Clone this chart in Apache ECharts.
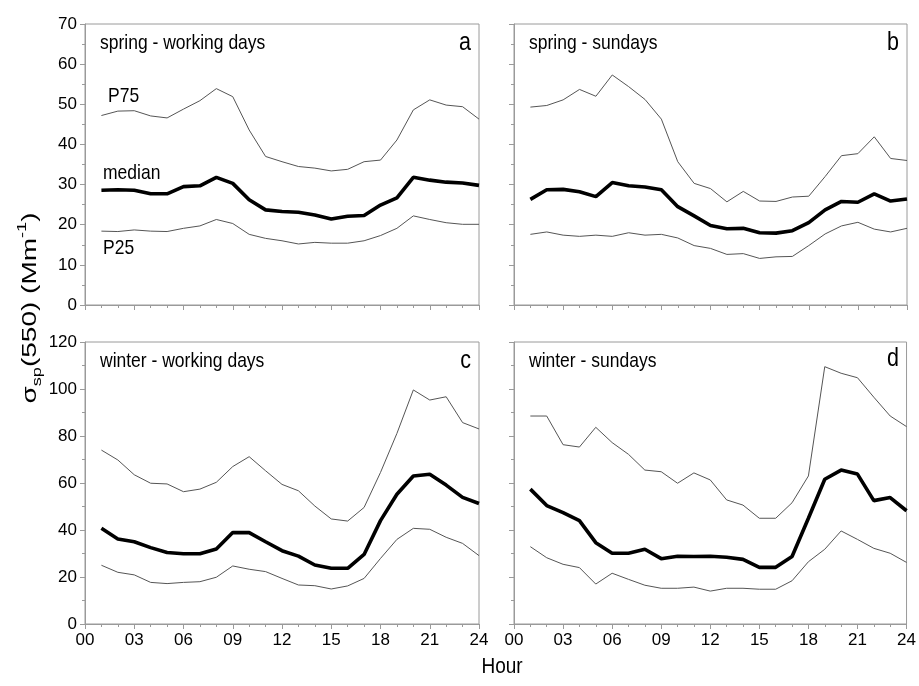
<!DOCTYPE html>
<html><head><meta charset="utf-8">
<script src="https://cdn.jsdelivr.net/npm/echarts@6/dist/echarts.min.js"></script>
<style>html,body{margin:0;padding:0;background:#fff}#c{width:919px;height:686px}</style>
</head><body><div id="c"></div>
<script>
const hours = [1,2,3,4,5,6,7,8,9,10,11,12,13,14,15,16,17,18,19,20,21,22,23,24];
const xTickLabels = ['00','03','06','09','12','15','18','21','24'];

const springWorkP75 = [47.2,48.3,48.4,47.1,46.6,48.8,50.9,53.9,51.9,43.6,37.0,35.7,34.5,34.1,33.4,33.8,35.7,36.1,41.1,48.6,51.1,49.8,49.4,46.3];
const springWorkMed = [28.6,28.7,28.6,27.7,27.7,29.5,29.7,31.8,30.3,26.2,23.7,23.3,23.1,22.4,21.4,22.1,22.3,24.9,26.7,31.8,31.1,30.6,30.4,29.8];
const springWorkP25 = [18.4,18.3,18.7,18.4,18.3,19.1,19.7,21.3,20.3,17.6,16.6,16.0,15.2,15.6,15.4,15.4,16.0,17.3,19.1,22.2,21.3,20.5,20.1,20.1];

const springSunP75 = [49.3,49.7,51.1,53.7,52.0,57.3,54.4,51.2,46.3,35.7,30.3,29.0,25.7,28.3,25.9,25.8,26.9,27.1,32.0,37.2,37.7,41.9,36.5,36.0];
const springSunMed = [26.3,28.7,28.8,28.2,27.0,30.5,29.7,29.4,28.7,24.5,22.2,19.8,19.0,19.1,18.0,17.9,18.5,20.5,23.7,25.8,25.6,27.7,25.9,26.4];
const springSunP25 = [17.6,18.2,17.4,17.1,17.4,17.1,18.0,17.4,17.6,16.7,14.8,14.1,12.6,12.8,11.6,12.0,12.1,14.8,17.7,19.7,20.6,18.9,18.2,19.1];

const winterWorkP75 = [74.0,69.8,63.5,59.9,59.6,56.3,57.4,60.3,67.0,71.2,65.2,59.4,56.7,50.2,44.7,43.8,49.6,64.5,81.1,99.6,95.3,96.7,85.7,83.0];
const winterWorkMed = [40.7,36.2,35.0,32.5,30.4,29.9,29.9,31.9,38.9,38.9,35.0,31.2,28.9,25.1,23.7,23.7,29.6,44.0,55.2,63.0,63.7,59.1,53.9,51.3];
const winterWorkP25 = [25.0,22.0,20.9,17.7,17.2,17.7,18.0,19.9,24.7,23.3,22.3,19.4,16.6,16.3,14.9,16.2,19.4,27.9,36.0,40.7,40.3,36.9,34.3,29.1];

const winterSunP75 = [88.5,88.5,76.3,75.3,83.7,77.2,72.2,65.5,64.8,59.9,64.3,61.3,52.8,50.6,45.0,45.0,51.6,63.0,109.5,106.7,104.8,96.5,88.5,84.0];
const winterSunMed = [57.4,50.4,47.4,44.0,34.6,30.1,30.1,31.8,27.8,28.8,28.7,28.8,28.4,27.5,24.1,24.1,28.7,45.0,61.6,65.5,63.8,52.5,53.8,48.2];
const winterSunP25 = [32.9,28.2,25.4,24.0,17.0,21.6,19.0,16.5,15.2,15.2,15.7,14.0,15.2,15.2,14.8,14.8,18.4,26.5,31.8,39.6,36.0,32.2,30.1,26.2];

const panelTitles = ['spring - working days','spring - sundays','winter - working days','winter - sundays'];
const panelLetters = ['a','b','c','d'];
const curveLabels = ['P75','median','P25'];

const FONT = 'Liberation Sans, Arial, sans-serif';
const AX = '#9a9a9a';

const panels = [
  {p75: springWorkP75, med: springWorkMed, p25: springWorkP25, max: 70, iv: 10},
  {p75: springSunP75, med: springSunMed, p25: springSunP25, max: 70, iv: 10},
  {p75: winterWorkP75, med: winterWorkMed, p25: winterWorkP25, max: 120, iv: 20},
  {p75: winterSunP75, med: winterSunMed, p25: winterSunP25, max: 120, iv: 20}
];
const gridPos = [
  {left: 85, top: 24, width: 394, height: 281},
  {left: 514, top: 24, width: 393, height: 281},
  {left: 85, top: 342, width: 394, height: 282},
  {left: 514, top: 342, width: 393, height: 282}
];

const grid = [], xAxis = [], yAxis = [], series = [];
panels.forEach((p, i) => {
  grid.push(Object.assign({show: true, borderColor: AX, borderWidth: 1, backgroundColor: 'transparent'}, gridPos[i]));
  const bottomRow = i >= 2, leftCol = i % 2 === 0;
  xAxis.push({
    type: 'value', gridIndex: i, min: 0, max: 24, interval: 3,
    axisLine: {show: true, lineStyle: {color: AX, width: 1}},
    axisTick: {show: true, length: 5, lineStyle: {color: AX}},
    minorTick: {show: true, splitNumber: 3, length: 3, lineStyle: {color: AX}},
    splitLine: {show: false},
    axisLabel: {show: bottomRow, color: '#000', fontFamily: FONT, fontSize: 17, margin: 8,
      formatter: v => xTickLabels[Math.round(v / 3)]}
  });
  yAxis.push({
    type: 'value', gridIndex: i, min: 0, max: p.max, interval: p.iv,
    axisLine: {show: true, lineStyle: {color: AX, width: 1}},
    axisTick: {show: true, length: 5, lineStyle: {color: AX}},
    minorTick: {show: true, splitNumber: 2, length: 3, lineStyle: {color: AX}},
    splitLine: {show: false},
    axisLabel: {show: leftCol, color: '#000', fontFamily: FONT, fontSize: 17, margin: 8}
  });
  const mk = (arr, w, col) => ({
    type: 'line', xAxisIndex: i, yAxisIndex: i, data: hours.map((h, k) => [h, arr[k]]),
    symbol: 'none', silent: true, animation: false,
    lineStyle: {width: w, color: col}
  });
  series.push(mk(p.p75, 1, '#555'), mk(p.p25, 1, '#555'), mk(p.med, 3.6, '#000'));
});

const graphic = [];
const txt = (t, x, y, size, sy, align) => ({
  type: 'text', x: x, y: y, scaleY: sy || 1,
  style: {text: t, font: size + 'px ' + FONT, fill: '#000', align: align || 'left', verticalAlign: 'top'}
});
const titlePos = [[100, 32], [529, 32], [100, 350], [529, 350]];
const letterPos = [[471, 30], [899, 30], [471, 348], [899, 346]];
panelTitles.forEach((t, i) => {
  graphic.push(txt(t, titlePos[i][0], titlePos[i][1], 17.5, 1.2));
  graphic.push(txt(panelLetters[i], letterPos[i][0], letterPos[i][1], 21.5, 1.2, 'right'));
});
const curvePos = [[108, 85], [103, 162], [103, 237]];
curveLabels.forEach((t, i) => {
  graphic.push(txt(t, curvePos[i][0], curvePos[i][1], 17.5, 1.2));
});
graphic.push(txt('Hour', 502, 656, 19, 1.15, 'center'));
graphic.push({type: 'text', x: 30, y: 308, rotation: Math.PI / 2, scaleX: 1.4,
  style: {
    text: '{b|σ}{s|sp}{b|(550) (Mm}{u|-1}{b|)}',
    align: 'center', verticalAlign: 'middle',
    rich: {
      b: {font: '20px ' + FONT, fill: '#000', lineHeight: 28, verticalAlign: 'middle'},
      s: {font: '13px ' + FONT, fill: '#000', lineHeight: 28, verticalAlign: 'bottom'},
      u: {font: '13px ' + FONT, fill: '#000', lineHeight: 28, verticalAlign: 'top'}
    }
  }});

const chart = echarts.init(document.getElementById('c'), null, {renderer: 'canvas'});
chart.setOption({animation: false, backgroundColor: '#fff', grid, xAxis, yAxis, series, graphic});
</script></body></html>
